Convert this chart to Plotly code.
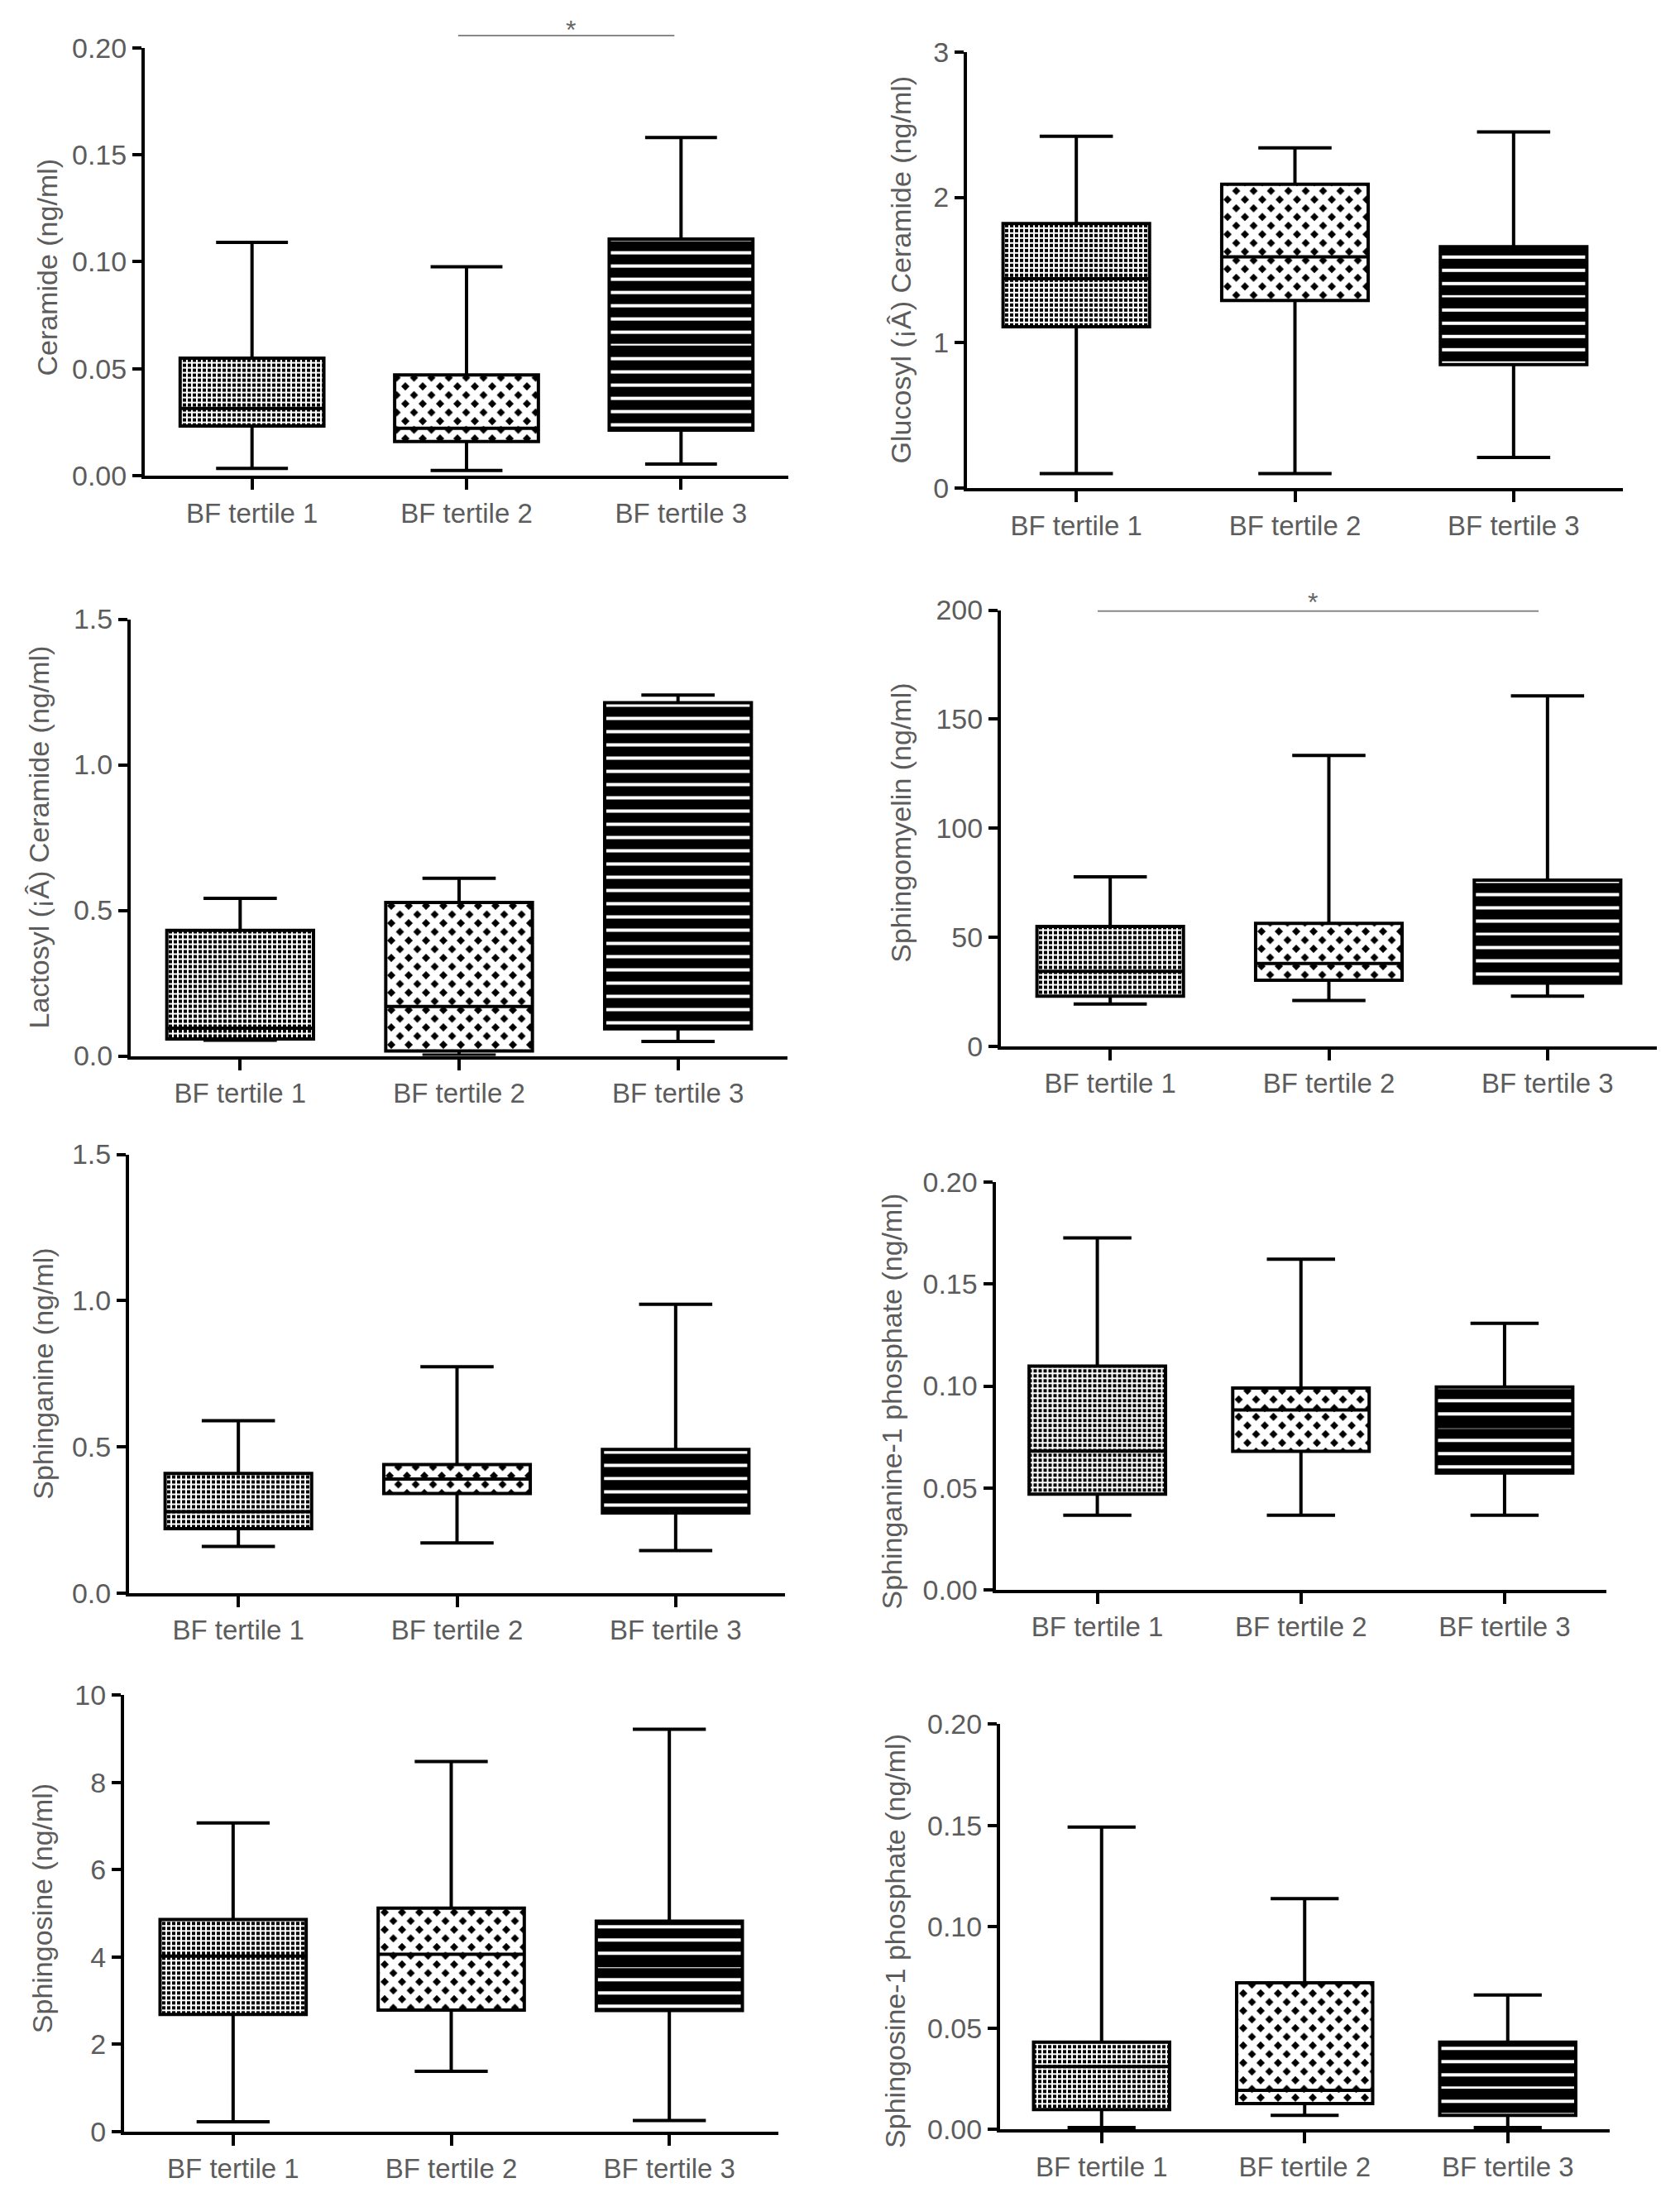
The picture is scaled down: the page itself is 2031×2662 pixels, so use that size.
import plotly.graph_objects as go

W, H = 2031, 2662

categories = ["BF tertile 1", "BF tertile 2", "BF tertile 3"]

# values: lower whisker, Q1, median, Q3, upper whisker
cer_low = [0.0034, 0.0024, 0.0054]
cer_q1 = [0.0232, 0.0159, 0.0213]
cer_med = [0.0314, 0.0221, 0.060]
cer_q3 = [0.0549, 0.0471, 0.1106]
cer_high = [0.109, 0.0976, 0.158]

glu_low = [0.10, 0.10, 0.21]
glu_q1 = [1.11, 1.29, 0.85]
glu_med = [1.44, 1.59, 1.30]
glu_q3 = [1.82, 2.09, 1.66]
glu_high = [2.42, 2.34, 2.45]

lac_low = [0.054, 0.003, 0.050]
lac_q1 = [0.058, 0.017, 0.093]
lac_med = [0.095, 0.170, 0.672]
lac_q3 = [0.431, 0.527, 1.213]
lac_high = [0.541, 0.610, 1.239]

sm_low = [19.3, 20.9, 22.9]
sm_q1 = [22.9, 30.2, 28.9]
sm_med = [34.3, 37.9, 50.0]
sm_q3 = [54.9, 56.3, 76.1]
sm_high = [77.6, 133.3, 160.6]

sa_low = [0.159, 0.171, 0.145]
sa_q1 = [0.220, 0.340, 0.274]
sa_med = [0.278, 0.390, 0.380]
sa_q3 = [0.409, 0.439, 0.491]
sa_high = [0.589, 0.774, 0.987]

sa1p_low = [0.0366, 0.0366, 0.0366]
sa1p_q1 = [0.0469, 0.0679, 0.0573]
sa1p_med = [0.0680, 0.0882, 0.0800]
sa1p_q3 = [0.1098, 0.0990, 0.0995]
sa1p_high = [0.1727, 0.1623, 0.1308]

so_low = [0.22, 1.38, 0.25]
so_q1 = [2.68, 2.78, 2.77]
so_med = [4.02, 4.06, 3.80]
so_q3 = [4.86, 5.12, 4.82]
so_high = [7.07, 8.48, 9.22]

so1p_low = [0.0009, 0.0069, 0.0009]
so1p_q1 = [0.0098, 0.0127, 0.0069]
so1p_med = [0.0310, 0.0193, 0.0193]
so1p_q3 = [0.0430, 0.0723, 0.0430]
so1p_high = [0.1492, 0.1139, 0.0663]

# title, stats, y max, tick step, tick format
panels = [
    ("Ceramide (ng/ml)", cer_low, cer_q1, cer_med, cer_q3, cer_high, 0.20, 0.05, ".2f"),
    ("Glucosyl (¡Â) Ceramide (ng/ml)", glu_low, glu_q1, glu_med, glu_q3, glu_high, 3, 1, "d"),
    ("Lactosyl (¡Â) Ceramide (ng/ml)", lac_low, lac_q1, lac_med, lac_q3, lac_high, 1.5, 0.5, ".1f"),
    ("Sphingomyelin (ng/ml)", sm_low, sm_q1, sm_med, sm_q3, sm_high, 200, 50, "d"),
    ("Sphinganine (ng/ml)", sa_low, sa_q1, sa_med, sa_q3, sa_high, 1.5, 0.5, ".1f"),
    ("Sphinganine-1 phosphate (ng/ml)", sa1p_low, sa1p_q1, sa1p_med, sa1p_q3, sa1p_high, 0.20, 0.05, ".2f"),
    ("Sphingosine (ng/ml)", so_low, so_q1, so_med, so_q3, so_high, 10, 2, "d"),
    ("Sphingosine-1 phosphate (ng/ml)", so1p_low, so1p_q1, so1p_med, so1p_q3, so1p_high, 0.20, 0.05, ".2f"),
]

# plot area in pixels: left, right, top, bottom ; title offset from axis ; title centre (fraction)
geom = [
    (175, 953, 57.6, 575, 118, 0.486),
    (1169, 1962, 62.8, 590, 80, 0.5),
    (158, 952, 748.5, 1276.5, 112, 0.5),
    (1210, 2003, 737.5, 1264.6, 121, 0.512),
    (156, 949, 1395.5, 1925.8, 104, 0.5),
    (1203.5, 1942, 1429.3, 1921.8, 125, 0.4625),
    (150, 941, 2049.3, 2576.7, 99, 0.511),
    (1209, 1945.5, 2084.3, 2574.2, 127, 0.464),
]

GRAY = "#5c5c5c"
FONT = "Liberation Sans, Arial, sans-serif"
BOXW = 0.67

fig = go.Figure()
annotations = []
shapes = []

for i, (title, low, q1, med, q3, high, ymax, dtick, fmt) in enumerate(panels):
    n = "" if i == 0 else str(i + 1)
    xa, ya = "x" + n, "y" + n
    left, right, top, bottom, toff, tfrac = geom[i]

    # patterned fill for the interquartile box: fine dots, checker, white stripes on black
    fig.add_trace(go.Bar(
        x=categories, y=[b - a for a, b in zip(q1, q3)], base=q1, width=BOXW,
        xaxis=xa, yaxis=ya, hoverinfo="skip",
        marker=dict(color="black", line_width=0,
                    pattern=dict(shape=["+", "x", "-"], size=[6, 14.85, 16],
                                 solidity=[0.56, 0.78, 0.25],
                                 fgcolor="white", bgcolor="black", fillmode="replace"))))

    # outline, median and whiskers
    fig.add_trace(go.Box(
        x=categories, q1=q1, median=med, q3=q3, lowerfence=low, upperfence=high,
        orientation="v", width=BOXW, whiskerwidth=0.5, boxpoints=False,
        line=dict(color="black", width=4), fillcolor="rgba(0,0,0,0)",
        xaxis=xa, yaxis=ya, hoverinfo="skip"))

    fig.layout["xaxis" + n] = dict(
        domain=[left / W, right / W], anchor=ya, type="category", range=[-0.5, 2.5],
        automargin=False,
        showline=True, linecolor="black", linewidth=4, ticks="outside", ticklen=13,
        tickwidth=3.5, tickcolor="black", showgrid=False, zeroline=False,
        tickfont=dict(size=33, color=GRAY, family=FONT))
    fig.layout["yaxis" + n] = dict(
        domain=[1 - bottom / H, 1 - top / H], anchor=xa, range=[0, ymax],
        tick0=0, dtick=dtick, tickformat=fmt, automargin=False,
        showline=True, linecolor="black", linewidth=4, ticks="outside", ticklen=11,
        tickwidth=3.5, tickcolor="black", showgrid=False, zeroline=False,
        tickfont=dict(size=34, color=GRAY, family=FONT))

    annotations.append(dict(
        text=title, xref=xa + " domain", yref=ya + " domain",
        x=-toff / (right - left), y=tfrac, textangle=-90, showarrow=False,
        xanchor="center", yanchor="middle", font=dict(size=34, color=GRAY, family=FONT)))

# significance bars (tertile 2 vs 3 for ceramide, tertile 1 vs 3 for sphingomyelin)
for ax, x0, x1, yl, xs, ys in [("", 0.487, 0.823, 1.028, 0.662, 1.003),
                               ("4", 0.1475, 0.8197, 0.9977, 0.476, 0.98)]:
    shapes.append(dict(type="line", xref="x%s domain" % ax, yref="y%s domain" % ax,
                       x0=x0, x1=x1, y0=yl, y1=yl, line=dict(color="#888888", width=2)))
    annotations.append(dict(text="*", xref="x%s domain" % ax, yref="y%s domain" % ax,
                            x=xs, y=ys, showarrow=False, xanchor="center", yanchor="bottom",
                            font=dict(size=32, color="#666666", family=FONT)))

fig.update_layout(
    width=W, height=H, margin=dict(l=0, r=0, t=0, b=0, autoexpand=False),
    paper_bgcolor="white", plot_bgcolor="white",
    showlegend=False, barmode="overlay", boxmode="overlay",
    font=dict(family=FONT, color=GRAY),
    annotations=annotations, shapes=shapes)

# the page body has a default 8px margin; drop it so the figure sits at the window corner
fig.write_html("out.html", config={"displayModeBar": False},
               post_script="document.body.style.margin='0px';")
